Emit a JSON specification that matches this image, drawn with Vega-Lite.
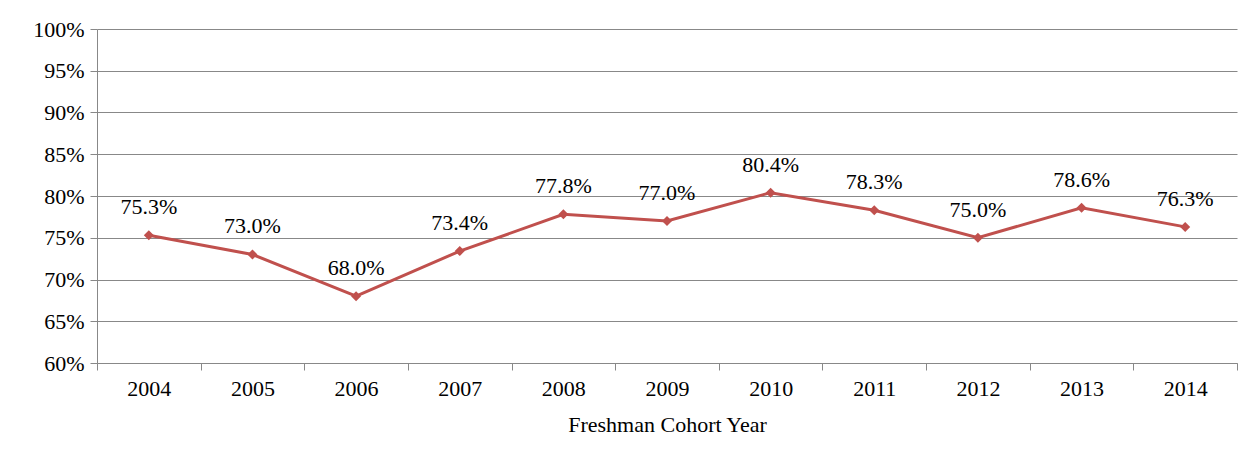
{
  "$schema": "https://vega.github.io/schema/vega-lite/v6.json",
  "autosize": "none",
  "padding": {"left": 97, "top": 29, "right": 8, "bottom": 97},
  "width": 1140,
  "height": 334,
  "background": "white",
  "config": {
    "view": {"stroke": null},
    "font": "Liberation Serif",
    "axis": {"labelFont": "Liberation Serif", "titleFont": "Liberation Serif"},
    "text": {"font": "Liberation Serif"}
  },
  "data": {
    "values": [
      {"year": "2004", "rate": 0.753},
      {"year": "2005", "rate": 0.730},
      {"year": "2006", "rate": 0.680},
      {"year": "2007", "rate": 0.734},
      {"year": "2008", "rate": 0.778},
      {"year": "2009", "rate": 0.770},
      {"year": "2010", "rate": 0.804},
      {"year": "2011", "rate": 0.783},
      {"year": "2012", "rate": 0.750},
      {"year": "2013", "rate": 0.786},
      {"year": "2014", "rate": 0.763}
    ]
  },
  "encoding": {
    "x": {
      "field": "year",
      "type": "ordinal",
      "scale": {"type": "band", "paddingInner": 0, "paddingOuter": 0},
      "axis": {
        "title": "Freshman Cohort Year",
        "titleFontSize": 22,
        "titleFontWeight": "normal",
        "titleColor": "#000000",
        "titlePadding": 15,
        "labelAngle": 0,
        "labelFontSize": 22,
        "labelColor": "#000000",
        "labelPadding": 8,
        "tickBand": "extent",
        "tickSize": 7,
        "tickColor": "#888888",
        "domainColor": "#888888",
        "grid": false
      }
    },
    "y": {
      "field": "rate",
      "type": "quantitative",
      "scale": {"domain": [0.6, 1.0], "nice": false, "zero": false},
      "axis": {
        "title": null,
        "format": ".0%",
        "values": [0.6, 0.65, 0.7, 0.75, 0.8, 0.85, 0.9, 0.95, 1.0],
        "labelFontSize": 22,
        "labelColor": "#000000",
        "labelPadding": 6,
        "tickSize": 7,
        "tickColor": "#888888",
        "domainColor": "#888888",
        "gridColor": "#888888",
        "gridOpacity": 1
      }
    }
  },
  "layer": [
    {
      "mark": {"type": "line", "color": "#C0504D", "strokeWidth": 3}
    },
    {
      "mark": {"type": "point", "shape": "diamond", "filled": true, "color": "#C0504D", "size": 100, "opacity": 1}
    },
    {
      "mark": {"type": "text", "dy": -28, "fontSize": 22, "color": "#000000"},
      "encoding": {"text": {"field": "rate", "type": "quantitative", "format": ".1%"}}
    }
  ]
}
